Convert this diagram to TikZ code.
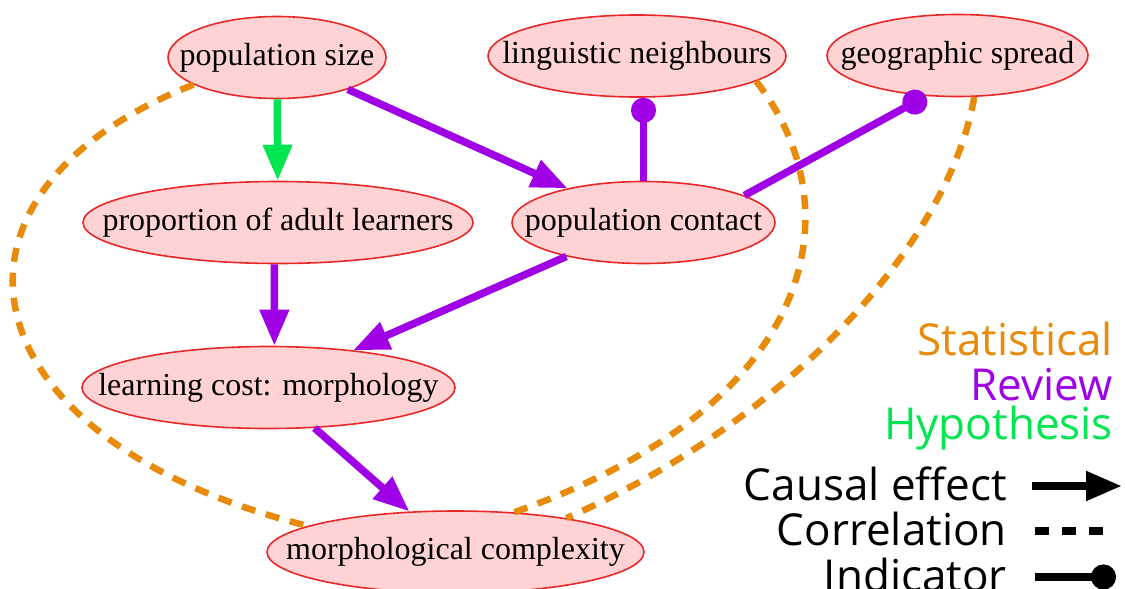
\documentclass[tikz,border=0pt]{standalone}
\usepackage{fontspec}
\setmainfont{Liberation Serif}
\newfontfamily\legendfont{Open Sans}
\usetikzlibrary{shapes.geometric,arrows.meta}
\definecolor{statcol}{RGB}{232,138,10}
\definecolor{revcol}{RGB}{160,0,230}
\definecolor{hypcol}{RGB}{0,230,80}
\definecolor{factfill}{RGB}{255,211,211}
\definecolor{factedge}{RGB}{232,40,40}
\newcommand{\facttext}[1]{\makebox[0pt]{#1}}

\begin{document}
\begin{tikzpicture}[x=1pt, y=-1pt,
    fact/.style={ellipse, draw=factedge, fill=factfill, line width=1.6pt, inner sep=0pt, minimum height=82pt, font=\fontsize{32}{38}\selectfont},
    cause/.style={line width=7.5pt, -{Triangle[length=36pt, width=28pt]}},
    indic/.style={line width=7.5pt, -{Circle[length=25pt]}},
    corr/.style={statcol, line width=6.5pt, dash pattern=on 14pt off 11pt},
    legend/.style={inner sep=0pt, anchor=base east, font=\legendfont\fontsize{44}{50}\selectfont}]
    \clip (0,0) rectangle (1125,589);
    \node [fact, minimum width=218pt] (ps) at (277,57.5) {\facttext{population size}};
    \node [fact, minimum width=298pt] (ln) at (637,56) {\facttext{linguistic neighbours}};
    \node [fact, minimum width=261pt] (gs) at (957.5,55.5) {\facttext{geographic spread}};
    \node [fact, minimum width=390pt] (pa) at (278,222.5) {\facttext{proportion of adult learners}};
    \node [fact, minimum width=263pt] (pc) at (643.5,222.5) {\facttext{population contact}};
    \node [fact, minimum width=373pt] (lc) at (268.5,387.5) {\facttext{learning cost: morphology}};
    \node [fact, minimum width=377pt] (mc) at (455.5,552) {\facttext{morphological complexity}};
    \draw [cause, hypcol] (ps) -- (pa);
    \draw [cause, revcol] (ps) -- (pc);
    \draw [cause, revcol] (pa.-95.6) -- (lc.82.4);
    \draw [cause, revcol] (pc) -- (lc);
    \draw [cause, revcol] (lc) -- (mc);
    \draw [indic, revcol] (pc.north) -- (pc.north |- ln.south);
    \draw [indic, revcol] (pc.15.7) -- (gs.232);
    \draw [corr] (ps.198) .. controls (-84,194) and (-39,439) .. (mc.170);
    \draw [corr] (ln.348) .. controls (850,200) and (830,400) .. (mc.34);
    \draw [corr] (gs.-68) .. controls (950,240) and (790,420) .. (mc.17);
    \node [legend, text=statcol] (lstat) at (1113,355) {Statistical};
    \node [legend, text=revcol] (lrev) at (1113,400) {Review};
    \node [legend, text=hypcol] (lhyp) at (1113,439) {Hypothesis};
    \node [legend] (lcause) at (1007,500) {Causal effect};
    \node [legend] (lcorr) at (1007,545) {Correlation};
    \node [legend] (lind) at (1007,591) {Indicator};
    \coordinate (cause1) at (1032,486);
    \coordinate (cause2) at (1122,486);
    \coordinate (corr1) at (1035,531);
    \coordinate (corr2) at (1103,531);
    \coordinate (ind1) at (1035,577);
    \coordinate (ind2) at (1116,577);
    \draw [cause, line width=8pt] (cause1) -- (cause2);
    \draw [corr, black, line width=8pt, dash pattern=on 14pt off 13pt] (corr1) -- (corr2);
    \draw [indic, line width=8pt] (ind1) -- (ind2);
\end{tikzpicture}
\end{document}
